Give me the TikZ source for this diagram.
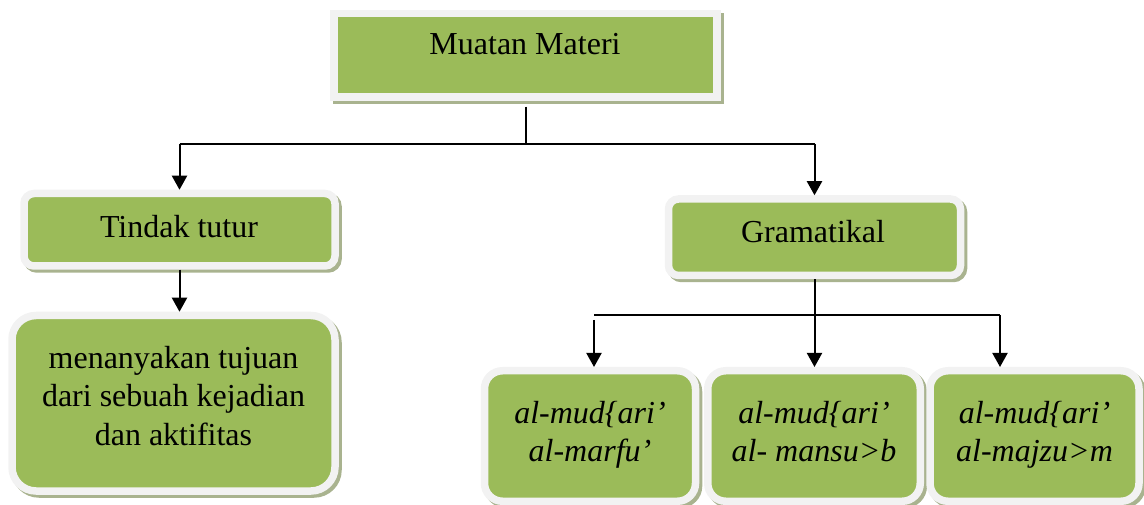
\documentclass[tikz,border=0pt]{standalone}
\usepackage{fontspec}
\setmainfont{Liberation Serif}
\usepackage{tikz}
\usetikzlibrary{calc}
\usetikzlibrary{shadows}
\usetikzlibrary{arrows.meta}
\definecolor{boxgreen}{HTML}{9BBB59}
\definecolor{boxrim}{HTML}{F2F2F2}
\definecolor{boxshade}{HTML}{A9B38F}
\tikzset{>={Triangle[width=15pt,length=14pt]}}
\tikzset{box/.style = {fill=boxgreen, draw=boxrim, line width=7.5pt, inner sep=0pt,
    general shadow={fill=boxshade, draw=boxshade, line width=7.5pt, shadow xshift=3pt, shadow yshift=-3pt}}}
\tikzset{boxtext/.style = {inner sep=0pt, outer sep=0pt, align=center, font=\fontsize{32}{38.5}\selectfont}}
\tikzset{wire/.style = {black, line width=2pt}}

\begin{document}
\begin{tikzpicture}[x=1pt,y=1pt]
    \useasboundingbox (0,0) rectangle (1144,504);

    % Boxes
    \node [box, minimum width=383pt, minimum height=83.5pt] (muatan) at (525.5,448.75) {};
    \node [box, rounded corners=10pt, minimum width=311pt, minimum height=72.5pt] (tindak) at (179.5,274.25) {};
    \node [box, rounded corners=24pt, minimum width=323pt, minimum height=175.5pt] (tanya) at (173.5,100.75) {};
    \node [box, rounded corners=10pt, minimum width=292pt, minimum height=76.5pt] (gram) at (814.5,266.75) {};
    \node [box, rounded corners=18pt, minimum width=211pt, minimum height=130.5pt] (marfu) at (590,68) {};
    \node [box, rounded corners=18pt, minimum width=212.5pt, minimum height=130.5pt] (mansub) at (814,68) {};
    \node [box, rounded corners=18pt, minimum width=209pt, minimum height=130.5pt] (majzum) at (1034.5,68) {};

    % Texts
    \node [boxtext, anchor=base] (muatan-t) at (525,449) {Muatan Materi};
    \node [boxtext, anchor=base] (tindak-t) at (179,266) {Tindak tutur};
    \node [boxtext, anchor=base] (gram-t) at (813,261) {Gramatikal};
    \node [boxtext, anchor=north] (tanya-t) at (173.5,158) {menanyakan tujuan\\dari sebuah kejadian\\dan aktifitas};
    \node [boxtext, anchor=north, font=\fontsize{32}{38.5}\selectfont\itshape] (marfu-t) at (590,103) {al-mud\{ari'\\al-marfu'};
    \node [boxtext, anchor=north, font=\fontsize{32}{38.5}\selectfont\itshape] (mansub-t) at (814,103) {al-mud\{ari'\\al- mansu>b};
    \node [boxtext, anchor=north, font=\fontsize{32}{38.5}\selectfont\itshape] (majzum-t) at (1034.5,103) {al-mud\{ari'\\al-majzu>m};

    \coordinate (hub) at (527,360);
    \coordinate (fork-l) at (594,189);
    \coordinate (fork-r) at (1000,189);

    % Line from Muatan Materi down to the branch
    \draw [wire, shorten <=6pt] (muatan.south) -- (muatan.south |- hub);

    % Branch to Tindak tutur and Gramatikal
    \draw [wire] (tindak.north |- hub) -- (gram.north |- hub);
    \draw [wire, ->] (tindak.north |- hub) -- (tindak.north);
    \draw [wire, ->] (gram.north |- hub) -- (gram.north);

    % Tindak tutur to its box
    \draw [wire, ->] (tindak.south) -- (tindak.south |- tanya.north);

    % Gramatikal to the three boxes
    \draw [wire] (fork-l) -- (fork-r);
    \draw [wire, ->] ([yshift=-5pt]fork-l) -- (fork-l |- marfu.north);
    \draw [wire, ->] (gram.south) -- (gram.south |- mansub.north);
    \draw [wire, ->] (fork-r) -- (fork-r |- majzum.north);
\end{tikzpicture}
\end{document}
